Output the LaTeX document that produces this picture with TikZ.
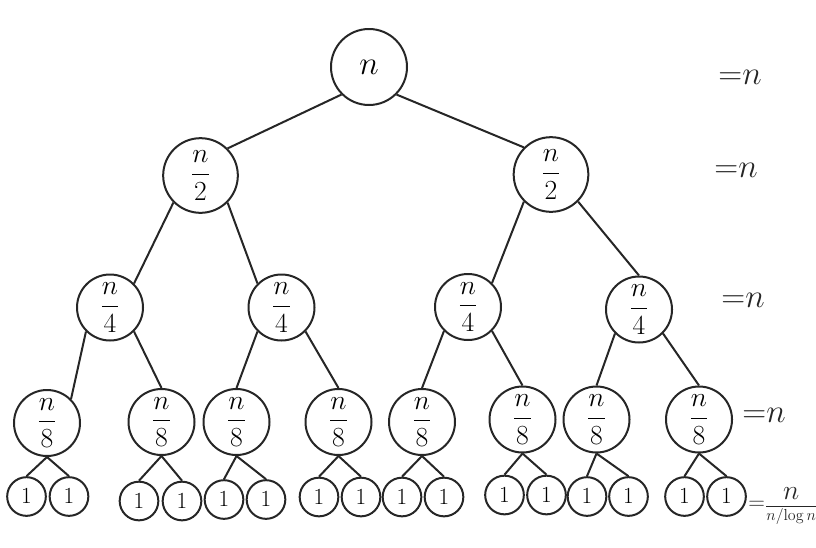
\documentclass[tikz,border=0pt]{standalone}
\usepackage{amsmath}
\tikzset{
  circ/.style     = {draw=black!85, circle, line width=1.5pt, inner sep=0pt},
  rootnode/.style = {circ, minimum size=57pt, font=\fontsize{38}{40}\selectfont},
  bignode/.style  = {circ, minimum size=56pt, font=\fontsize{20}{22}\selectfont},
  midnode/.style  = {circ, minimum size=49.5pt, font=\fontsize{20}{22}\selectfont},
  leafnode/.style = {circ, minimum size=29pt, font=\fontsize{18}{20}\selectfont},
  sum/.style      = {inner sep=0pt, text=black!85, font=\fontsize{26}{28}\selectfont},
  link/.style     = {line width=1.5pt, draw=black!85}
}
\begin{document}
\begin{tikzpicture}[x=0.75pt, y=-0.75pt]
\useasboundingbox (0,0) rectangle (816,547);

% tree levels
\node[rootnode] at (369  ,  67  ) (root) {$n$};
\node[bignode]  at (200.5, 175.5) (L)    {$\dfrac{n}{2}$};
\node[bignode]  at (551  , 174.5) (R)    {$\dfrac{n}{2}$};
\node[midnode]  at (110  , 307.5) (LL)   {$\dfrac{n}{4}$};
\node[midnode]  at (281.5, 307.5) (LR)   {$\dfrac{n}{4}$};
\node[midnode]  at (468  , 307  ) (RL)   {$\dfrac{n}{4}$};
\node[midnode]  at (639  , 309.5) (RR)   {$\dfrac{n}{4}$};
\node[midnode]  at ( 47  , 423  ) (a1)   {$\dfrac{n}{8}$};
\node[midnode]  at (161.5, 422  ) (a2)   {$\dfrac{n}{8}$};
\node[midnode]  at (236.5, 422  ) (a3)   {$\dfrac{n}{8}$};
\node[midnode]  at (338.5, 422  ) (a4)   {$\dfrac{n}{8}$};
\node[midnode]  at (422  , 422  ) (a5)   {$\dfrac{n}{8}$};
\node[midnode]  at (522.5, 419.5) (a6)   {$\dfrac{n}{8}$};
\node[midnode]  at (596.5, 419.5) (a7)   {$\dfrac{n}{8}$};
\node[midnode]  at (699  , 419.5) (a8)   {$\dfrac{n}{8}$};

% leaves
\node[leafnode] at ( 26.5, 496.5) (a1l) {$1$};
\node[leafnode] at ( 69  , 496.5) (a1r) {$1$};
\node[leafnode] at (139  , 501  ) (a2l) {$1$};
\node[leafnode] at (182  , 501  ) (a2r) {$1$};
\node[leafnode] at (224  , 499.5) (a3l) {$1$};
\node[leafnode] at (266  , 499.5) (a3r) {$1$};
\node[leafnode] at (319  , 497  ) (a4l) {$1$};
\node[leafnode] at (361  , 497  ) (a4r) {$1$};
\node[leafnode] at (402  , 497  ) (a5l) {$1$};
\node[leafnode] at (444  , 497  ) (a5r) {$1$};
\node[leafnode] at (504.5, 495  ) (a6l) {$1$};
\node[leafnode] at (546.5, 495  ) (a6r) {$1$};
\node[leafnode] at (587  , 496.5) (a7l) {$1$};
\node[leafnode] at (628.5, 496.5) (a7r) {$1$};
\node[leafnode] at (684.5, 496.5) (a8l) {$1$};
\node[leafnode] at (726.5, 496.5) (a8r) {$1$};

% level sums
\node[sum] at (740, 77 ) (s0) {${=}n$};
\node[sum] at (736, 170) (s1) {${=}n$};
\node[sum] at (743, 300) (s2) {${=}n$};
\node[sum] at (764, 415) (s3) {${=}n$};
\node[sum, anchor=west, font=\fontsize{11}{13}\selectfont] at (748, 506) (s4)
      {\mbox{\fontsize{16}{18}\selectfont${=}$}$\dfrac{\mbox{\fontsize{20}{22}\selectfont$n$}}%
       {\mbox{\fontsize{13}{15}\selectfont$n/\!\log n$}}$};

\draw[link] (root.south west) -- (L.north east);
\draw[link] (root.south east) -- (R.north west);
\draw[link] (L.south west) -- (LL.north east);
\draw[link] (L.south east) -- (LR.north west);
\draw[link] (R.south west) -- (RL.north east);
\draw[link] (R.south east) -- (RR.north);
\draw[link] (LL.south west) -- (a1.north east);
\draw[link] (LL.south east) -- (a2.north);
\draw[link] (LR.south west) -- (a3.north);
\draw[link] (LR.south east) -- (a4.north);
\draw[link] (RL.south west) -- (a5.north);
\draw[link] (RL.south east) -- (a6.north);
\draw[link] (RR.south west) -- (a7.north);
\draw[link] (RR.south east) -- (a8.north);
\foreach \i in {1,...,8}{
  \draw[link] (a\i.south) -- (a\i l.north);
  \draw[link] (a\i.south) -- (a\i r.north);
}
\end{tikzpicture}
\end{document}
